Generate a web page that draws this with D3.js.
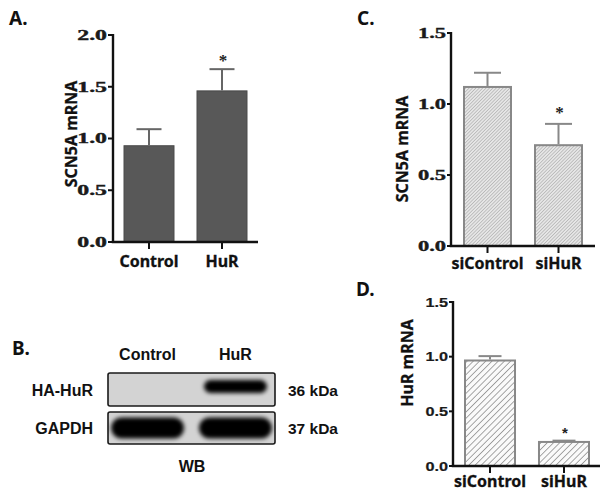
<!DOCTYPE html>
<html><head><meta charset="utf-8">
<script src="https://cdn.jsdelivr.net/npm/d3@7/dist/d3.min.js"></script>
<style>body{margin:0;background:#fff}svg{display:block}</style>
</head><body>
<svg id="c" width="612" height="498"></svg>
<script>
// ---- data ----
const catsA = ["Control", "HuR"];
const meanA = [0.93, 1.46];
const errA  = [0.16, 0.21];
const sigA  = [false, true];
const ticksA = [0, 0.5, 1.0, 1.5, 2.0];

const catsC = ["siControl", "siHuR"];
const meanC = [1.12, 0.71];
const errC  = [0.10, 0.15];
const sigC  = [false, true];
const ticksC = [0, 0.5, 1.0, 1.5];

const catsD = ["siControl", "siHuR"];
const meanD = [0.965, 0.22];
const errD  = [0.04, 0.012];
const sigD  = [false, true];
const ticksD = [0, 0.5, 1.0, 1.5];

const wbLanes = ["Control", "HuR"];
const wbRows = ["HA-HuR", "GAPDH"];
const wbSizes = ["36 kDa", "37 kDa"];
const wbHA = [0, 1];
const wbGAPDH = [1, 1];

const svg = d3.select("#c");
const defs = svg.append("defs");
const pf = defs.append("pattern").attr("id","hatchFine").attr("patternUnits","userSpaceOnUse")
  .attr("width",2.4).attr("height",2.4).attr("patternTransform","rotate(45)");
pf.append("rect").attr("width",2.4).attr("height",2.4).attr("fill","#e6e6e6");
pf.append("line").attr("x1",0).attr("y1",0).attr("x2",0).attr("y2",2.4).attr("stroke","#9c9c9c").attr("stroke-width",1.0);
const pw = defs.append("pattern").attr("id","hatchWide").attr("patternUnits","userSpaceOnUse")
  .attr("width",4.4).attr("height",4.4).attr("patternTransform","rotate(45)");
pw.append("rect").attr("width",4.4).attr("height",4.4).attr("fill","#fafafa");
pw.append("line").attr("x1",0).attr("y1",0).attr("x2",0).attr("y2",4.4).attr("stroke","#8a8a8a").attr("stroke-width",1.5);
defs.append("filter").attr("id","blur").attr("x","-30%").attr("y","-60%").attr("width","160%").attr("height","220%")
  .append("feGaussianBlur").attr("stdDeviation",2.2);

const sans = "'Noto Sans', 'Open Sans', sans-serif";
const arial = "'Liberation Sans', Arial, sans-serif";
const serif = "'Liberation Serif', 'Times New Roman', serif";

function panel(o){
  const g = svg.append("g");
  const y = d3.scaleLinear().domain([0, o.max]).range([o.y0, o.yTop]);
  const x = d3.scaleBand().domain(o.cats).range(o.barRange).paddingInner(o.pad);
  g.selectAll("rect.bar").data(o.cats).join("rect")
    .attr("x", d => x(d)).attr("width", x.bandwidth())
    .attr("y", (d,i) => y(o.mean[i])).attr("height", (d,i) => o.y0 - y(o.mean[i]))
    .attr("fill", o.fill).attr("stroke", o.stroke).attr("stroke-width", o.sw);
  o.cats.forEach((c,i) => {
    const cx = x(c) + x.bandwidth()/2;
    g.append("line").attr("x1",cx).attr("x2",cx).attr("y1",y(o.mean[i]) - o.sw/2).attr("y2",y(o.mean[i]+o.err[i]))
      .attr("stroke",o.errColor).attr("stroke-width",2);
    g.append("line").attr("x1",cx-o.cap/2).attr("x2",cx+o.cap/2).attr("y1",y(o.mean[i]+o.err[i])).attr("y2",y(o.mean[i]+o.err[i]))
      .attr("stroke",o.errColor).attr("stroke-width",2);
    if (o.sig[i]) {
      g.append("text").attr("x",cx+1).attr("y",y(o.mean[i]+o.err[i]) - o.starGap).attr("text-anchor","middle")
        .attr("font-family",o.starFont).attr("font-weight","bold").attr("font-size",o.starSize).attr("fill","#222").text("*");
    }
  });
  g.append("line").attr("x1",o.x0).attr("x2",o.x0).attr("y1",o.y0).attr("y2",o.yTop-1).attr("stroke","#111").attr("stroke-width",2.4);
  o.ticks.forEach(t => {
    g.append("line").attr("x1",o.x0-o.tl).attr("x2",o.x0).attr("y1",y(t)).attr("y2",y(t)).attr("stroke","#111").attr("stroke-width",2);
    g.append("text").attr("transform",`translate(${o.x0-o.tl-1},${y(t)+o.tickDy}) scale(${o.tsx},1)`)
      .attr("text-anchor","end").attr("font-family",o.tickFont).attr("font-weight","bold").attr("font-size",o.tickSize)
      .attr("fill","#1a1a1a").attr("stroke","#1a1a1a").attr("stroke-width",o.tickStroke).text(d3.format(".1f")(t));
  });
  g.append("line").attr("x1",o.x0-1.2).attr("x2",o.xEnd).attr("y1",o.y0).attr("y2",o.y0).attr("stroke","#111").attr("stroke-width",2.4);
  o.cats.forEach(c => {
    const cx = x(c) + x.bandwidth()/2;
    g.append("line").attr("x1",cx).attr("x2",cx).attr("y1",o.y0).attr("y2",o.y0+7).attr("stroke","#111").attr("stroke-width",2);
    g.append("text").attr("x",cx).attr("y",o.labY).attr("text-anchor","middle").attr("font-family",sans)
      .attr("font-weight","bold").attr("font-size",16).attr("fill","#111").attr("stroke","#111").attr("stroke-width",0.3).text(c);
  });
  g.append("text").attr("transform",`translate(${o.titleX},${o.titleY}) rotate(-90)`).attr("text-anchor","middle")
    .attr("font-family",sans).attr("font-weight","bold").attr("font-size",16).attr("fill","#111")
    .attr("stroke","#111").attr("stroke-width",0.3).text(o.title);
  g.append("text").attr("x",o.letterX).attr("y",o.letterY).attr("font-family",sans).attr("font-weight","bold")
    .attr("font-size",19).attr("fill","#111").text(o.letter);
}

panel({cats:catsA, mean:meanA, err:errA, sig:sigA, ticks:ticksA, max:2.0,
  x0:113, xEnd:258, y0:242, yTop:35, barRange:[124,247], pad:0.315,
  fill:"#585858", stroke:"#4a4a4a", sw:1, errColor:"#666", cap:25,
  starFont:serif, starSize:17, starGap:3,
  tl:5, tickFont:serif, tickSize:14, tsx:1.7, tickDy:4.8, tickStroke:0.4,
  labY:267, title:"SCN5A mRNA", titleX:77, titleY:134, letter:"A.", letterX:9, letterY:25});

panel({cats:catsC, mean:meanC, err:errC, sig:sigC, ticks:ticksC, max:1.5,
  x0:451, xEnd:595, y0:246, yTop:33, barRange:[464,582], pad:0.338,
  fill:"url(#hatchFine)", stroke:"#888", sw:2, errColor:"#888", cap:27,
  starFont:serif, starSize:17, starGap:6,
  tl:4, tickFont:serif, tickSize:15, tsx:1.5, tickDy:5, tickStroke:0.4,
  labY:269, title:"SCN5A mRNA", titleX:408, titleY:149, letter:"C.", letterX:357, letterY:25});

panel({cats:catsD, mean:meanD, err:errD, sig:sigD, ticks:ticksD, max:1.5,
  x0:453, xEnd:600, y0:466, yTop:302, barRange:[465,589], pad:0.324,
  fill:"url(#hatchWide)", stroke:"#888", sw:2, errColor:"#888", cap:23,
  starFont:arial, starSize:15, starGap:3,
  tl:4, tickFont:arial, tickSize:13, tsx:1.25, tickDy:4.7, tickStroke:0.2,
  labY:487, title:"HuR mRNA", titleX:413, titleY:363, letter:"D.", letterX:356, letterY:296});

// ---- western blot ----
const wb = svg.append("g");
const lx = d3.scalePoint().domain(wbLanes).range([108,275]).padding(0.45);
const boxes = [{y:373, h:33, vals:wbHA, bw:63, bh:13, dy:-3}, {y:412, h:32, vals:wbGAPDH, bw:73, bh:21, dy:0}];
boxes.forEach((b,r) => {
  wb.append("rect").attr("x",108).attr("y",b.y).attr("width",167).attr("height",b.h).attr("rx",2)
    .attr("fill","#d3d3d3").attr("stroke","#1a1a1a").attr("stroke-width",1.6);
  wbLanes.forEach((l,i) => {
    if (b.vals[i] > 0) {
      wb.append("rect").attr("x",lx(l)-b.bw/2).attr("y",b.y+b.h/2+b.dy-b.bh/2).attr("width",b.bw).attr("height",b.bh)
        .attr("rx",b.bh/2).attr("fill","#000").attr("opacity",b.vals[i]).attr("filter","url(#blur)");
    }
  });
  wb.append("text").attr("x",93).attr("y",b.y+b.h/2+6).attr("text-anchor","end").attr("font-family",arial)
    .attr("font-weight","bold").attr("font-size",16).attr("fill","#111").text(wbRows[r]);
  wb.append("text").attr("x",288).attr("y",b.y+b.h/2+6).attr("font-family",arial)
    .attr("font-weight","bold").attr("font-size",15.5).attr("fill","#111").text(wbSizes[r]);
});
wbLanes.forEach(l => {
  wb.append("text").attr("x",lx(l)).attr("y",360).attr("text-anchor","middle").attr("font-family",arial)
    .attr("font-weight","bold").attr("font-size",16).attr("fill","#111").text(l);
});
wb.append("text").attr("x",192).attr("y",472).attr("text-anchor","middle").attr("font-family",arial)
  .attr("font-weight","bold").attr("font-size",16).attr("fill","#111").text("WB");
wb.append("text").attr("x",12).attr("y",355).attr("font-family",sans).attr("font-weight","bold")
  .attr("font-size",19).attr("fill","#111").text("B.");
</script>
</body></html>
